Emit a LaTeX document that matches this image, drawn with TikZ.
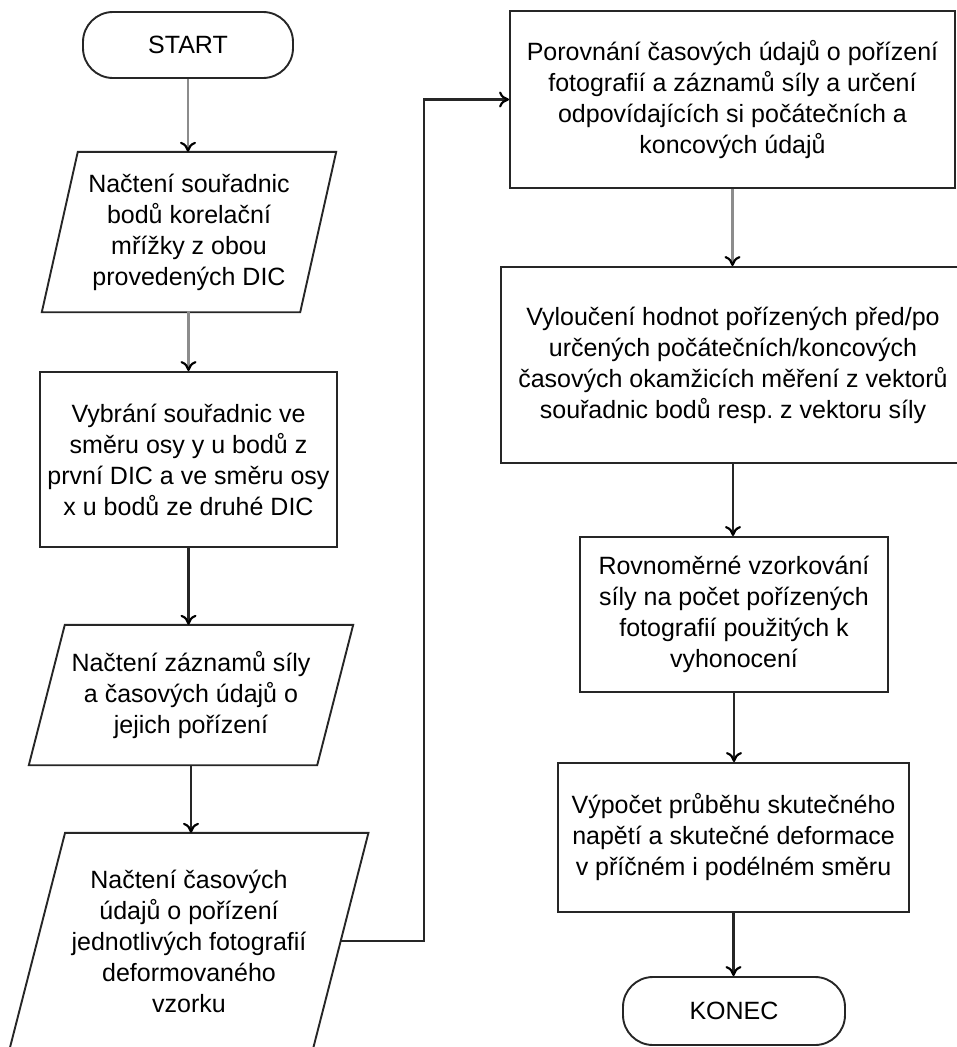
\documentclass[tikz,border=0pt]{standalone}
\usepackage{fontspec}
\setmainfont{Liberation Sans}
\usetikzlibrary{calc,arrows.meta}

% parallelogram (input/output) drawn round a named node: #1 node, #2 horizontal slant
\newcommand{\slantbox}[2]{%
  \draw[outline] ($(#1.north west)+(#2/2,0)$) -- ($(#1.north east)+(#2/2,0)$)
    -- ($(#1.south east)-(#2/2,0)$) -- ($(#1.south west)-(#2/2,0)$) -- cycle;}

\begin{document}
\frenchspacing
\begin{tikzpicture}[x=1pt,y=-1pt,
  every node/.style={font=\fontsize{25}{31}\selectfont, align=center, inner sep=0pt, text=black},
  outline/.style={draw=black!85, line width=1.9pt},
  terminal/.style={outline, rounded corners=30pt},
  process/.style={outline},
  iobox/.style={draw=none},
  flow/.style={line width=2.2pt, draw=black!85, -{To[length=10pt,width=16pt,line width=2.2pt,color=black]}},
  flowgray/.style={flow, draw=black!45},
]
\useasboundingbox (0,0) rectangle (957,1047);
\clip (0,0) rectangle (957,1047);

% left column
\node[terminal, minimum width=210pt, minimum height=66pt] (start) at (188,45) {START};
\node[iobox, minimum width=258pt, minimum height=160pt] (p1) at (189,232)
  {Načtení souřadnic\\bodů korelační\\mřížky z obou\\provedených DIC};
\slantbox{p1}{36}
\node[process, minimum width=297pt, minimum height=175pt] (b2) at (188.5,459.5)
  {Vybrání souřadnic ve\\směru osy y u bodů z\\první DIC a ve směru osy\\x u bodů ze druhé DIC};
\node[iobox, minimum width=288pt, minimum height=140pt] (p3) at (191,695)
  {Načtení záznamů síly\\a časových údajů o\\jejich pořízení};
\slantbox{p3}{36}
\node[iobox, minimum width=303pt, minimum height=216pt] (p4) at (189,941)
  {Načtení časových\\údajů o pořízení\\jednotlivých fotografií\\deformovaného\\vzorku};
\slantbox{p4}{55.5}

% right column
\node[process, minimum width=445pt, minimum height=177pt] (r1) at (732.5,99.5)
  {Porovnání časových údajů o pořízení\\fotografií a záznamů síly a určení\\odpovídajících si počátečních a\\koncových údajů};
\node[process, minimum width=464pt, minimum height=196pt] (r2) at (733,365)
  {Vyloučení hodnot pořízených před/po\\určených počátečních/koncových\\časových okamžicích měření z vektorů\\souřadnic bodů resp. z vektoru síly};
\node[process, minimum width=308pt, minimum height=155pt] (r3) at (734,614.5)
  {Rovnoměrné vzorkování\\síly na počet pořízených\\fotografií použitých k\\vyhonocení};
\node[process, minimum width=351pt, minimum height=149pt] (r4) at (733.5,837.5)
  {Výpočet průběhu skutečného\\napětí a skutečné deformace\\v příčném i podélném směru};
\node[terminal, minimum width=222pt, minimum height=68pt] (konec) at (734,1011) {KONEC};

% connectors
\coordinate (elbow) at (424,0);
\draw[flowgray] (start.south) -- (start.south |- p1.north);
\draw[flowgray] (p1.south) -- (p1.south -| b2) -- (b2.north);
\draw[flow] (b2.south) -- (b2.south |- p3.north);
\draw[flow] (p3.south) -- (p3.south |- p4.north);
\draw[flow] (p4.east) -- (p4.east -| elbow) |- (r1.west);
\draw[flowgray] (r1.south) -- (r1.south |- r2.north);
\draw[flow] (r2.south) -- (r2.south |- r3.north);
\draw[flow] (r3.south) -- (r3.south |- r4.north);
\draw[flow] (r4.south) -- (r4.south |- konec.north);
\end{tikzpicture}
\end{document}
